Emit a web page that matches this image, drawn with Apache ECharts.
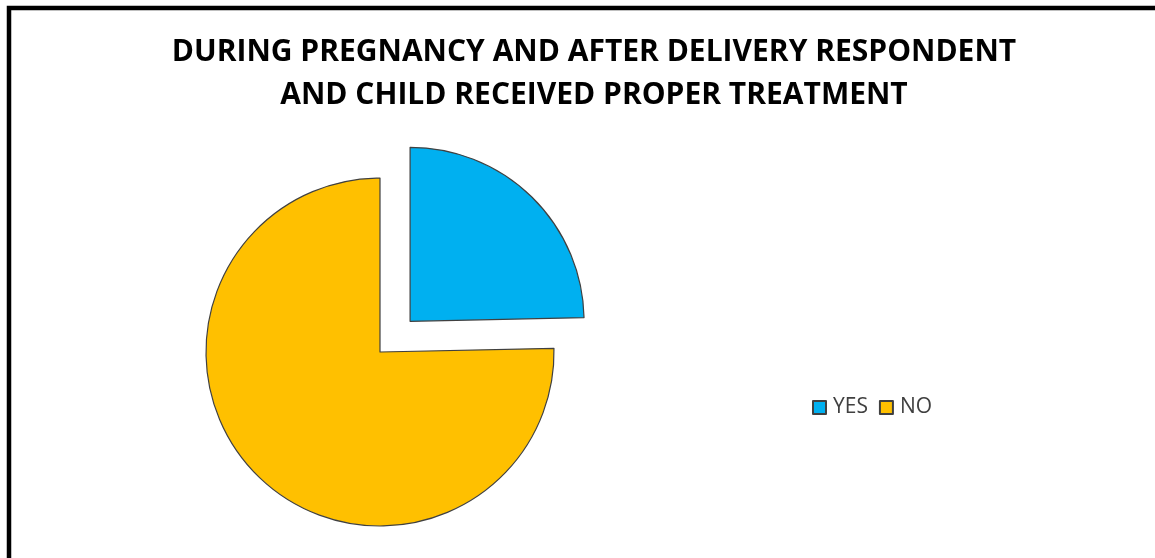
<!DOCTYPE html>
<html><head><meta charset="utf-8">
<script src="https://cdn.jsdelivr.net/npm/echarts@6/dist/echarts.min.js"></script>
<style>html,body{margin:0;padding:0;background:#fff}#c{width:1155px;height:558px}</style>
</head><body><div id="c"></div>
<script>
const titleText = "DURING PREGNANCY AND AFTER DELIVERY RESPONDENT\nAND CHILD RECEIVED PROPER TREATMENT";
const categories = ["YES", "NO"];
const values = [37, 113];
const colors = ["#00B0F0", "#FFC000"];

const chart = echarts.init(document.getElementById('c'), null, {renderer: 'canvas'});
chart.setOption({
  animation: false,
  backgroundColor: '#ffffff',
  title: {
    text: titleText,
    left: 589, top: 26, textAlign: 'center',
    textStyle: {fontFamily: 'Open Sans', fontWeight: 'bold', fontSize: 30, color: '#000', lineHeight: 43}
  },
  legend: {
    data: categories, left: 807, top: 392, orient: 'horizontal',
    itemWidth: 13, itemHeight: 13, itemGap: 11,
    icon: 'rect',
    textStyle: {fontFamily: 'Open Sans', fontSize: 21, color: '#404040', padding: [0,0,0,2]}
  },
  graphic: [{
    type: 'rect', shape: {x: 9, y: 8, width: 1300, height: 700},
    style: {fill: 'none', stroke: '#000', lineWidth: 4.5}, silent: true
  }],
  series: [{
    type: 'pie', center: [380, 352], radius: 174, startAngle: 90, clockwise: true,
    selectedMode: 'multiple', selectedOffset: 43,
    label: {show: false}, labelLine: {show: false},
    emphasis: {disabled: true},
    itemStyle: {borderColor: '#404040', borderWidth: 1.2},
    data: categories.map((n, i) => ({name: n, value: values[i], selected: i === 0, itemStyle: {color: colors[i]}}))
  }]
});
</script></body></html>
